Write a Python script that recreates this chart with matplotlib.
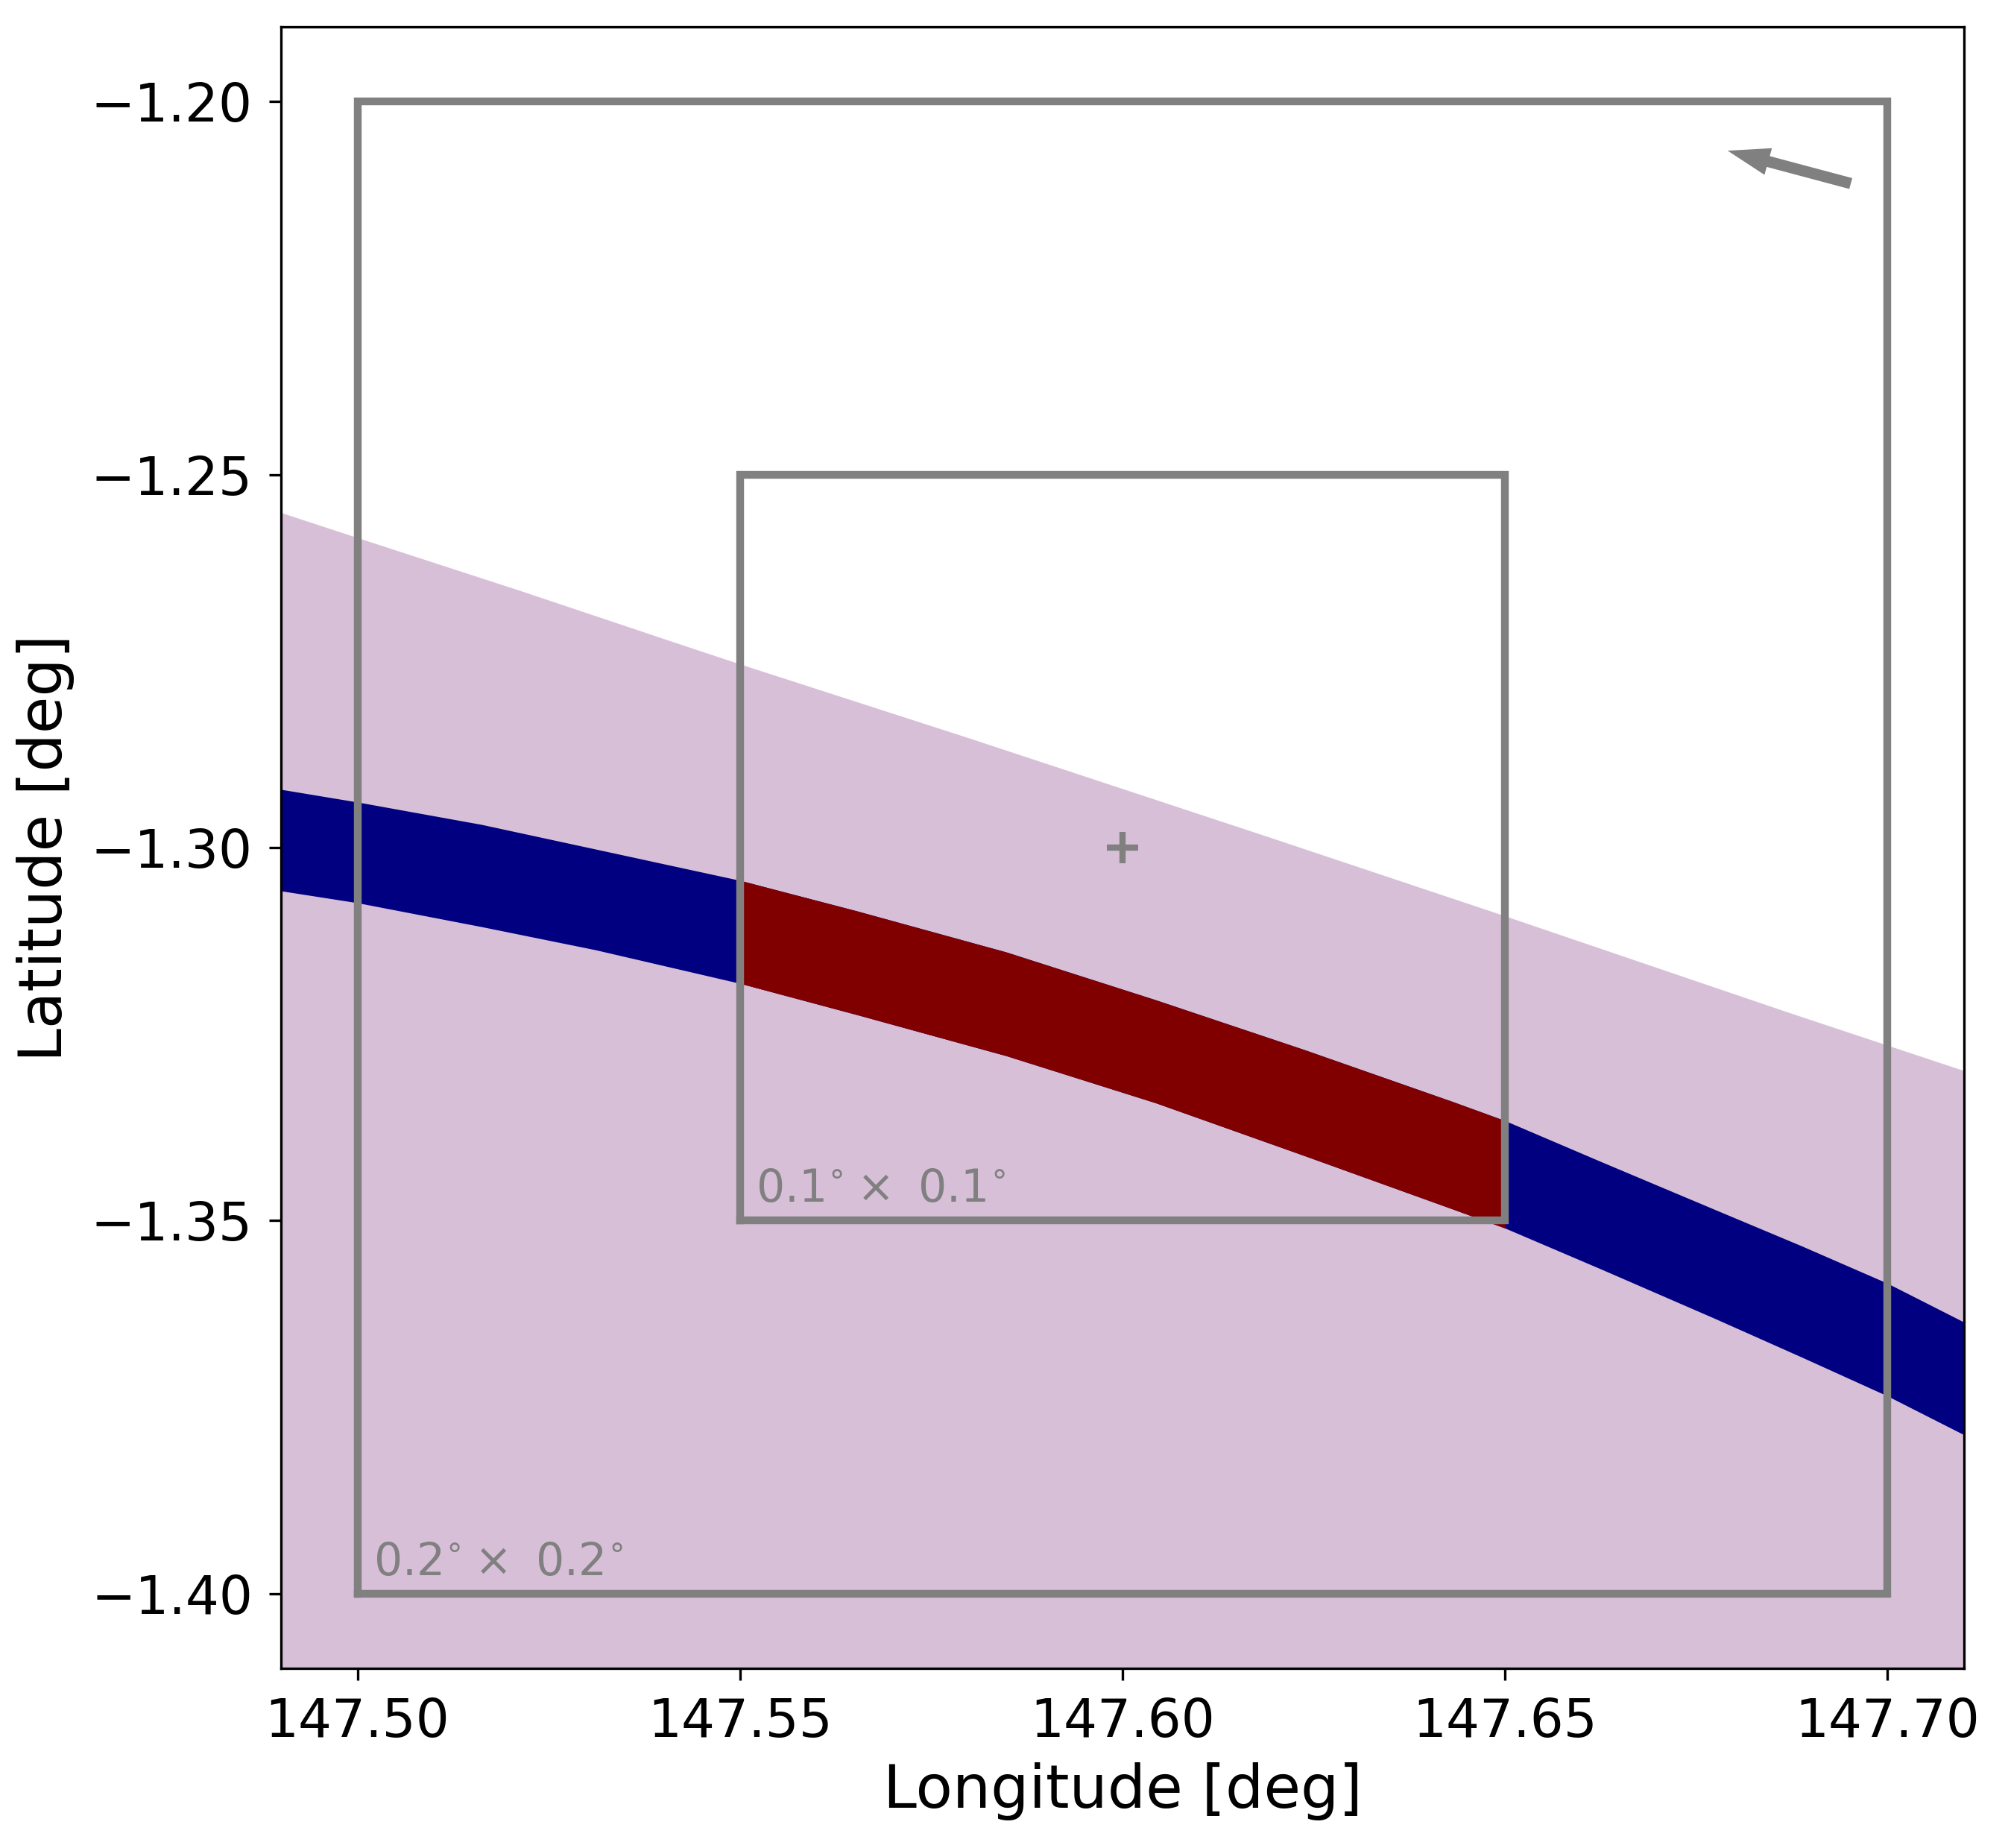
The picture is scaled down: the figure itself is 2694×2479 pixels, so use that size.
"""
Latitude/longitude footprint of the band crossing the survey fields.
"""

import matplotlib
matplotlib.use('Agg')
import matplotlib.pyplot as plt
import numpy as np

# Upper edge of the light region
sky_lon = [147.49, 147.5019, 147.5214, 147.5409, 147.55, 147.5799, 147.5994, 147.6189,
           147.6481, 147.6676, 147.6871, 147.71]
sky_lat = [-1.2551, -1.2591, -1.2656, -1.2723, -1.2754, -1.2853, -1.2919, -1.2985,
           -1.3085, -1.3153, -1.3221, -1.3299]

# Edges of the band
band_lon = [147.49, 147.50, 147.5162, 147.5311, 147.55, 147.5653, 147.5848, 147.6043,
            147.6238, 147.6433, 147.65, 147.6628, 147.6774, 147.6888, 147.70, 147.71]
band_top = [-1.2922, -1.2939, -1.2969, -1.3002, -1.3044, -1.3085, -1.3140, -1.3204,
            -1.3271, -1.3341, -1.3366, -1.3422, -1.3485, -1.3534, -1.3584, -1.3636]
band_bot = [-1.3058, -1.3074, -1.3106, -1.3137, -1.3182, -1.3224, -1.3279, -1.3342,
            -1.3413, -1.3485, -1.3510, -1.3566, -1.3631, -1.3683, -1.3735, -1.3787]

# Field boxes: lon min, lon max, lat min, lat max, label
boxes = [(147.50, 147.70, -1.40, -1.20, r'$0.2^{\circ}\times\ 0.2^{\circ}$'),
         (147.55, 147.65, -1.35, -1.25, r'$0.1^{\circ}\times\ 0.1^{\circ}$')]

xticks = [147.50, 147.55, 147.60, 147.65, 147.70]
yticks = [-1.40, -1.35, -1.30, -1.25, -1.20]

W, H = 2694, 2479
fig = plt.figure(figsize=(W / 300, H / 300), dpi=300)
ax = fig.add_axes([377 / W, 1 - 2238 / H, (2635 - 377) / W, (2238 - 36) / H])

band_lon = np.array(band_lon)
band_top = np.array(band_top)
band_bot = np.array(band_bot)

# ===== Regions =====
ax.fill_between(sky_lon, -1.41, sky_lat, color='#D8BFD8', linewidth=0)
ax.fill_between(band_lon, band_bot, band_top, color='#000080', linewidth=0)
inner = (band_lon >= 147.55) & (band_lon <= 147.65)
ax.fill_between(band_lon[inner], band_bot[inner], band_top[inner], color='#800000', linewidth=0)

# ===== Boxes =====
for x0, x1, y0, y1, label in boxes:
    ax.plot([x0, x1, x1, x0, x0], [y0, y0, y1, y1, y0], color='gray', linewidth=2.5,
            solid_joinstyle='miter', solid_capstyle='projecting')
    ax.text(x0 + 0.0021, y0 + 0.0025, label, color='gray', fontsize=14.4)

ax.plot(147.60, -1.30, '+', color='gray', markersize=10, markeredgewidth=2)

# Motion arrow
ax.arrow(147.6952, -1.2110, -0.0161, 0.0044, width=0.0015, head_width=0.0037,
         head_length=0.0055, length_includes_head=True, facecolor='gray', edgecolor='none')

ax.set_xlim(147.49, 147.71)
ax.set_ylim(-1.41, -1.19)
ax.set_xticks(xticks)
ax.set_yticks(yticks)
ax.set_xticklabels([f'{v:.2f}' for v in xticks])
ax.tick_params(axis='both', labelsize=17, length=3.8, pad=5.3)
ax.set_xlabel('Longitude [deg]', fontsize=19.4, labelpad=4.5)
ax.set_ylabel('Latitude [deg]', fontsize=19.4, labelpad=5.3)

fig.savefig('out.png', dpi=300)
